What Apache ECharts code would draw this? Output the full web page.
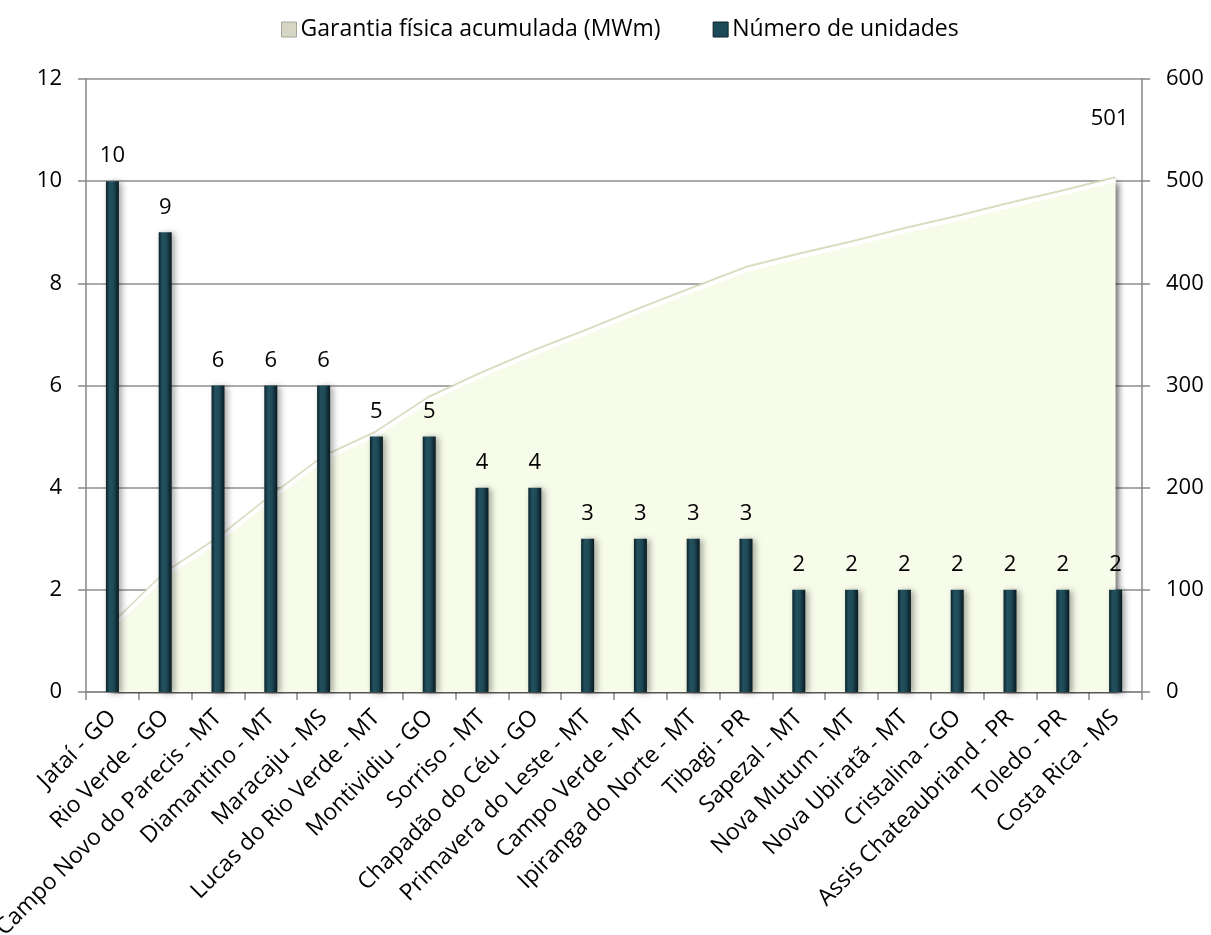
<!DOCTYPE html>
<html>
<head>
<meta charset="utf-8">
<script src="https://cdn.jsdelivr.net/npm/echarts@6/dist/echarts.min.js"></script>
<style>
  html, body { margin: 0; padding: 0; background: #fff; }
  #chart { width: 1211px; height: 935px; }
</style>
</head>
<body>
<div id="chart"></div>
<script>
// Municípios, ordenados pelo número de unidades
var municipios = [
  'Jataí - GO', 'Rio Verde - GO', 'Campo Novo do Parecis - MT', 'Diamantino - MT',
  'Maracaju - MS', 'Lucas do Rio Verde - MT', 'Montividiu - GO', 'Sorriso - MT',
  'Chapadão do Céu - GO', 'Primavera do Leste - MT', 'Campo Verde - MT',
  'Ipiranga do Norte - MT', 'Tibagi - PR', 'Sapezal - MT', 'Nova Mutum - MT',
  'Nova Ubiratã - MT', 'Cristalina - GO', 'Assis Chateaubriand - PR',
  'Toledo - PR', 'Costa Rica - MS'
];
// Número de unidades por município (eixo esquerdo)
var unidades = [10, 9, 6, 6, 6, 5, 5, 4, 4, 3, 3, 3, 3, 2, 2, 2, 2, 2, 2, 2];
// Garantia física acumulada em MWm (eixo direito)
var garantiaAcumulada = [64, 114, 148, 189, 228, 252, 286, 310, 332, 352, 373, 393, 413, 426, 438, 451, 463, 476, 488, 501];
// Marcas dos eixos
var ticksUnidades = [0, 2, 4, 6, 8, 10, 12];
var ticksMWm = [0, 100, 200, 300, 400, 500, 600];

var FONT = 'Open Sans';
var TXT = '#000';
var AXIS = '#868686';
var TRANSPARENTE = 'rgba(0,0,0,0)';

// Só o último ponto da área leva rótulo com o total acumulado
var ultimo = garantiaAcumulada.length - 1;
var dadosArea = garantiaAcumulada.map(function (v, i) {
  if (i !== ultimo) return v;
  return {
    value: v,
    label: {
      show: true, position: 'top', distance: 50, offset: [-6, 0],
      color: TXT, fontFamily: FONT, fontSize: 22,
      formatter: function (p) { return p.value; }
    }
  };
});

var chart = echarts.init(document.getElementById('chart'), null, { renderer: 'canvas' });
chart.setOption({
  animation: false,
  backgroundColor: '#ffffff',
  textStyle: { fontFamily: FONT },
  legend: {
    top: 13, left: 276,
    itemWidth: 15, itemHeight: 15, itemGap: 52,
    icon: 'rect',
    textStyle: { color: TXT, fontFamily: FONT, fontSize: 23, padding: [0, 0, 0, -1] },
    data: [
      { name: 'Garantia física acumulada (MWm)', itemStyle: { color: '#d6d6c6', borderColor: '#a8a898', borderWidth: 1, opacity: 1 } },
      { name: 'Número de unidades', itemStyle: { color: '#1d4a58', borderColor: '#0c2229', borderWidth: 1, opacity: 1 } }
    ]
  },
  grid: { left: 86, right: 69, top: 79, bottom: 243, containLabel: false, outerBoundsMode: 'none' },
  xAxis: {
    type: 'category',
    data: municipios,
    boundaryGap: true,
    axisLine: { show: true, lineStyle: { color: AXIS, width: 1.5 } },
    axisTick: { show: true, length: 8, lineStyle: { color: AXIS, width: 1.5 } },
    axisLabel: {
      interval: 0, rotate: 45, margin: 22,
      color: TXT, fontFamily: FONT, fontSize: 23
    }
  },
  yAxis: [
    {
      type: 'value', min: 0, max: 12, interval: 2,
      axisLine: { show: true, lineStyle: { color: AXIS, width: 1.5 } },
      axisTick: { show: true, length: 8, lineStyle: { color: AXIS, width: 1.5 } },
      axisLabel: {
        margin: 24, color: TXT, fontFamily: FONT, fontSize: 22,
        formatter: function (v) { return ticksUnidades.indexOf(v) >= 0 ? String(v) : ''; }
      },
      splitLine: { show: true, lineStyle: { color: '#8f8f8f', width: 1.5 } }
    },
    {
      type: 'value', min: 0, max: 600, interval: 100,
      axisLine: { show: true, lineStyle: { color: AXIS, width: 1.5 } },
      axisTick: { show: true, length: 8, lineStyle: { color: AXIS, width: 1.5 } },
      axisLabel: {
        margin: 24, color: TXT, fontFamily: FONT, fontSize: 22,
        formatter: function (v) { return ticksMWm.indexOf(v) >= 0 ? String(v) : ''; }
      },
      splitLine: { show: false }
    }
  ],
  series: [
    {
      name: 'Garantia física acumulada (MWm)',
      type: 'line',
      yAxisIndex: 1,
      data: dadosArea,
      symbol: 'circle',
      symbolSize: 1,
      showSymbol: true,
      showAllSymbol: true,
      z: 1,
      itemStyle: { color: TRANSPARENTE, borderColor: TRANSPARENTE, borderWidth: 0 },
      lineStyle: { color: '#ffffff', width: 4, shadowColor: 'rgba(215,215,185,0.9)', shadowBlur: 0, shadowOffsetY: -2 },
      areaStyle: {
        color: '#f7fbe9', opacity: 1,
        shadowColor: 'rgba(0,0,0,0.6)', shadowBlur: 6, shadowOffsetX: 3, shadowOffsetY: 2
      }
    },
    {
      name: 'Número de unidades',
      type: 'bar',
      yAxisIndex: 0,
      data: unidades,
      barWidth: 13,
      z: 3,
      itemStyle: {
        color: new echarts.graphic.LinearGradient(0, 0, 1, 0, [
          { offset: 0, color: '#0c242c' },
          { offset: 0.3, color: '#23525f' },
          { offset: 0.6, color: '#1e4856' },
          { offset: 1, color: '#08191f' }
        ]),
        shadowColor: 'rgba(0,0,0,0.35)', shadowBlur: 6, shadowOffsetX: 3, shadowOffsetY: 1
      },
      label: {
        show: true, position: 'top', distance: 14,
        color: TXT, fontFamily: FONT, fontSize: 22
      }
    }
  ]
});
</script>
</body>
</html>
